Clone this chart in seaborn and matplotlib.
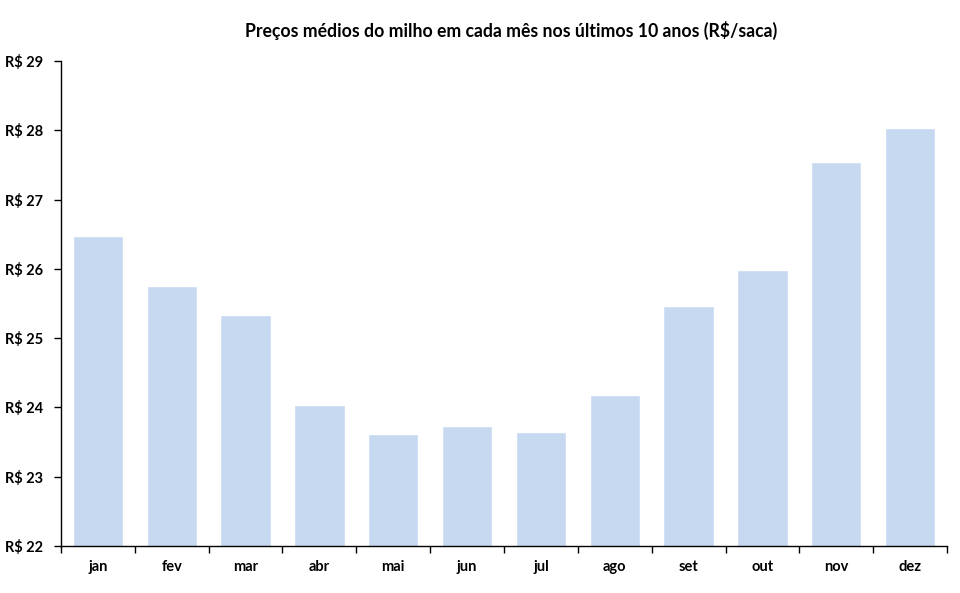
import matplotlib
matplotlib.use('Agg')
import matplotlib.pyplot as plt
import seaborn as sns
import pandas as pd
import numpy as np

# monthly average corn prices (R$/saca)
meses = ['jan', 'fev', 'mar', 'abr', 'mai', 'jun', 'jul', 'ago', 'set', 'out', 'nov', 'dez']
precos = [26.47, 25.75, 25.33, 24.03, 23.62, 23.73, 23.65, 24.18, 25.46, 25.98, 27.54, 28.03]
y_ticks = [22, 23, 24, 25, 26, 27, 28, 29]

df = pd.DataFrame({'mes': meses, 'preco': precos})

sns.set_style('white', {'text.color': 'black', 'xtick.color': 'black',
                        'ytick.color': 'black'})
plt.rcParams['font.family'] = ['Lato', 'DejaVu Sans']

fig = plt.figure(figsize=(9.6, 5.93), dpi=100)
ax = fig.add_axes([0.0635, 0.0793, 0.923, 0.8177])

sns.barplot(data=df, x='mes', y='preco', color='#c6d9f1', width=0.68,
            saturation=1, ax=ax)

ax.set_ylim(22, 29)
ax.set_xlim(-0.5, len(meses) - 0.5)
ax.set_yticks(y_ticks)
ax.set_yticklabels(['R$ %d' % v for v in y_ticks], fontsize=10.5, fontweight='bold')
ax.set_xticks(range(len(meses)))
ax.set_xticklabels(meses, fontsize=10.5, fontweight='bold')
ax.set_xticks(np.arange(-0.5, len(meses)), minor=True)
ax.tick_params(axis='x', which='major', bottom=True, length=0, pad=10,
               labelcolor='black')
ax.tick_params(axis='x', which='minor', bottom=True, length=5, width=1,
               color='black', direction='out')
ax.tick_params(axis='y', left=True, length=5, width=1, color='black',
               direction='out', pad=8, labelcolor='black')
ax.set_xlabel('')
ax.set_ylabel('')

for s in ['top', 'right']:
    ax.spines[s].set_visible(False)
for s in ['left', 'bottom']:
    ax.spines[s].set_color('black')
    ax.spines[s].set_linewidth(1)

fig.suptitle('Preços médios do milho em cada mês nos últimos 10 anos (R$/saca)',
             x=0.532, y=0.965, fontsize=12.7, fontweight='bold', color='black')

fig.savefig('out.png', dpi=100)
